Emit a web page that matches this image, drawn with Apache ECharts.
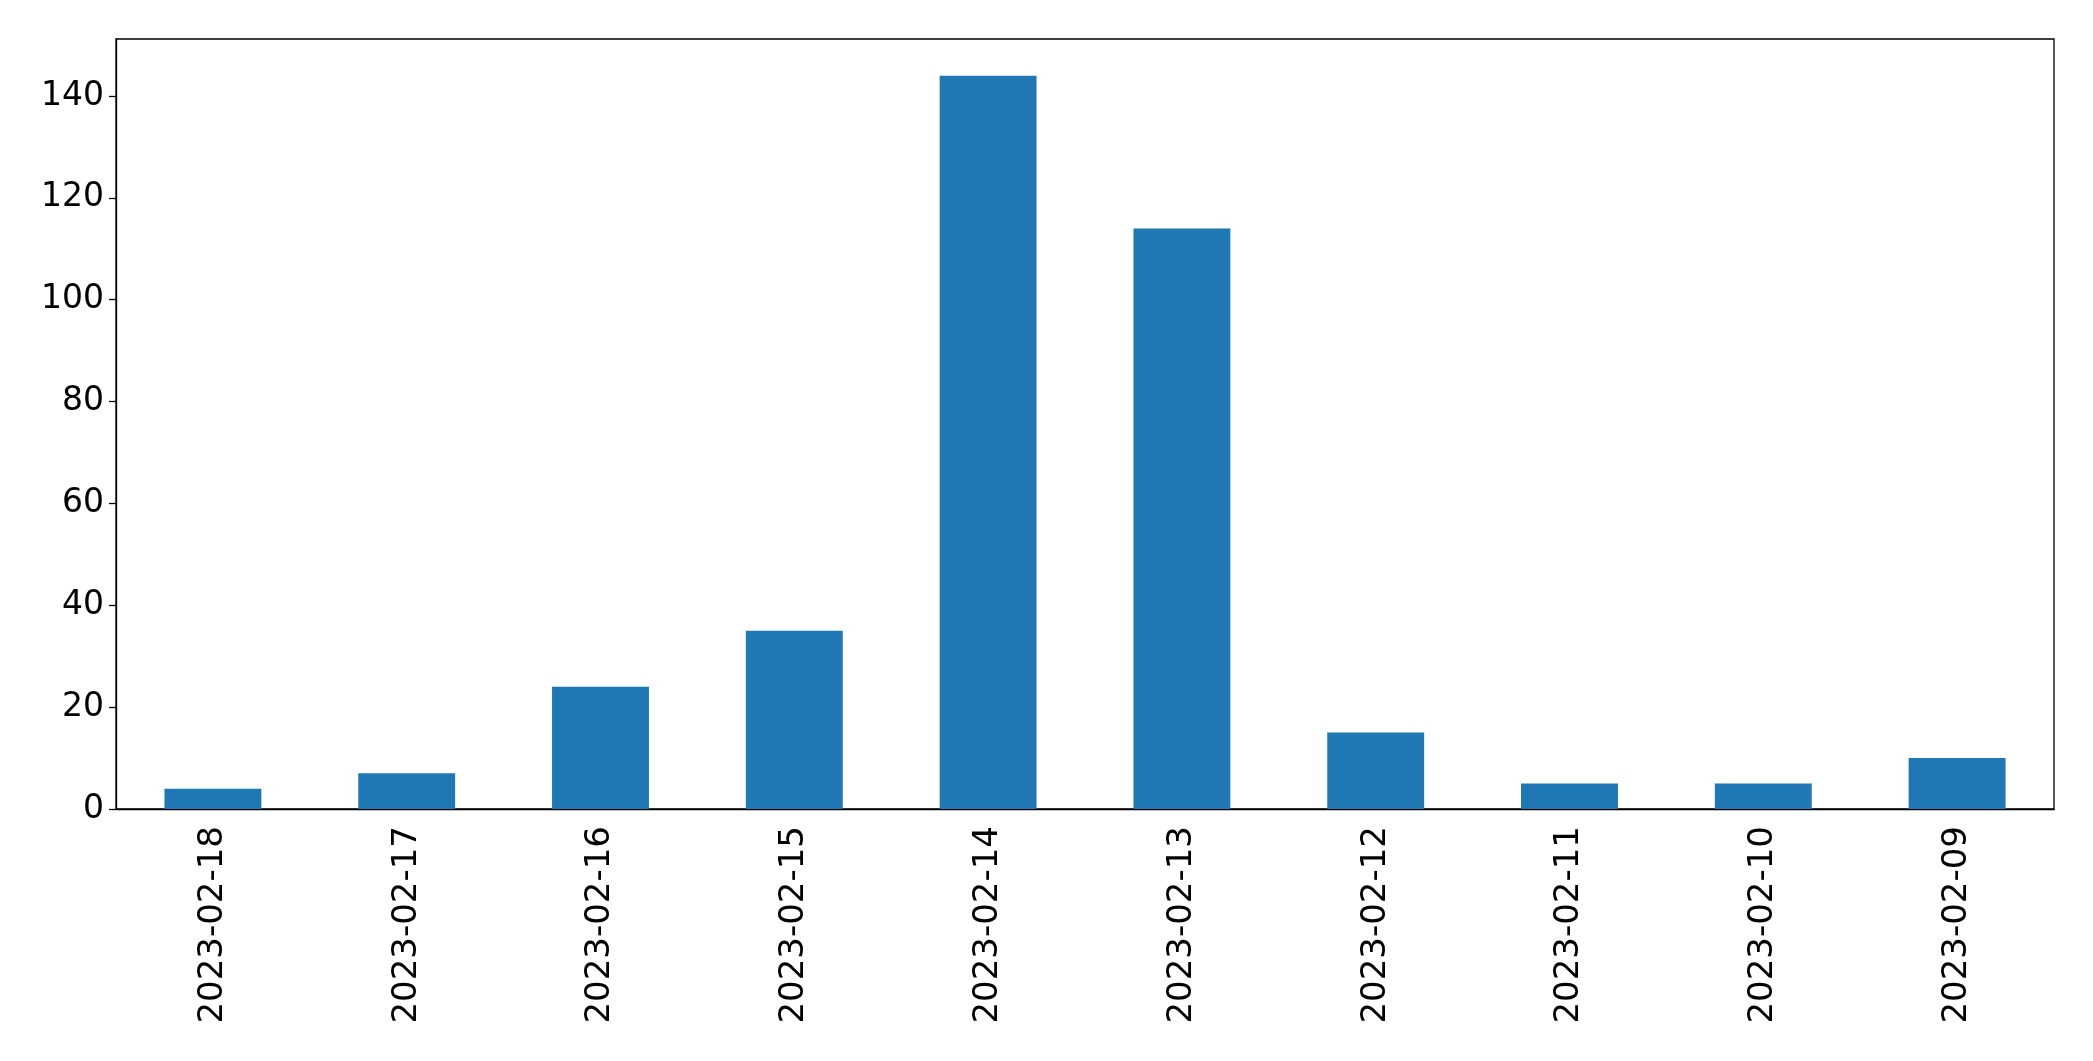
<!DOCTYPE html>
<html>
<head>
<meta charset="utf-8">
<script src="https://cdn.jsdelivr.net/npm/echarts@6/dist/echarts.min.js"></script>
<style>
html,body{margin:0;padding:0;background:#fff;}
#chart{width:2093px;height:1061px;}
</style>
</head>
<body>
<div id="chart"></div>
<script>
const categories = ["2023-02-18","2023-02-17","2023-02-16","2023-02-15","2023-02-14","2023-02-13","2023-02-12","2023-02-11","2023-02-10","2023-02-09"];
const values = [4, 7, 24, 35, 144, 114, 15, 5, 5, 10];
const yMax = 151.2;

const chart = echarts.init(document.getElementById('chart'));
chart.setOption({
  animation: false,
  backgroundColor: '#fff',
  grid: {left: 116, top: 39, right: 39, bottom: 252, show: true, borderColor: '#000', borderWidth: 1.3, backgroundColor: 'transparent'},
  xAxis: {
    type: 'category',
    data: categories,
    boundaryGap: true,
    axisLine: {lineStyle: {color: '#000', width: 1.3}},
    axisTick: {alignWithLabel: true, length: 7, lineStyle: {color: '#000', width: 1.3}},
    axisLabel: {rotate: 90, margin: 17, color: '#000', fontSize: 34, fontFamily: 'DejaVu Sans', interval: 0},
    splitLine: {show: false}
  },
  yAxis: {
    type: 'value',
    min: 0, max: yMax, interval: 20,
    axisLine: {show: true, lineStyle: {color: '#000', width: 1.3}},
    axisTick: {show: true, length: 7, lineStyle: {color: '#000', width: 1.3}},
    axisLabel: {margin: 12, color: '#000', fontSize: 33, fontFamily: 'DejaVu Sans', showMaxLabel: false},
    splitLine: {show: false}
  },
  series: [{
    type: 'bar',
    data: values,
    barWidth: '50%',
    itemStyle: {color: '#1f77b4'}
  }]
});
</script>
</body>
</html>
